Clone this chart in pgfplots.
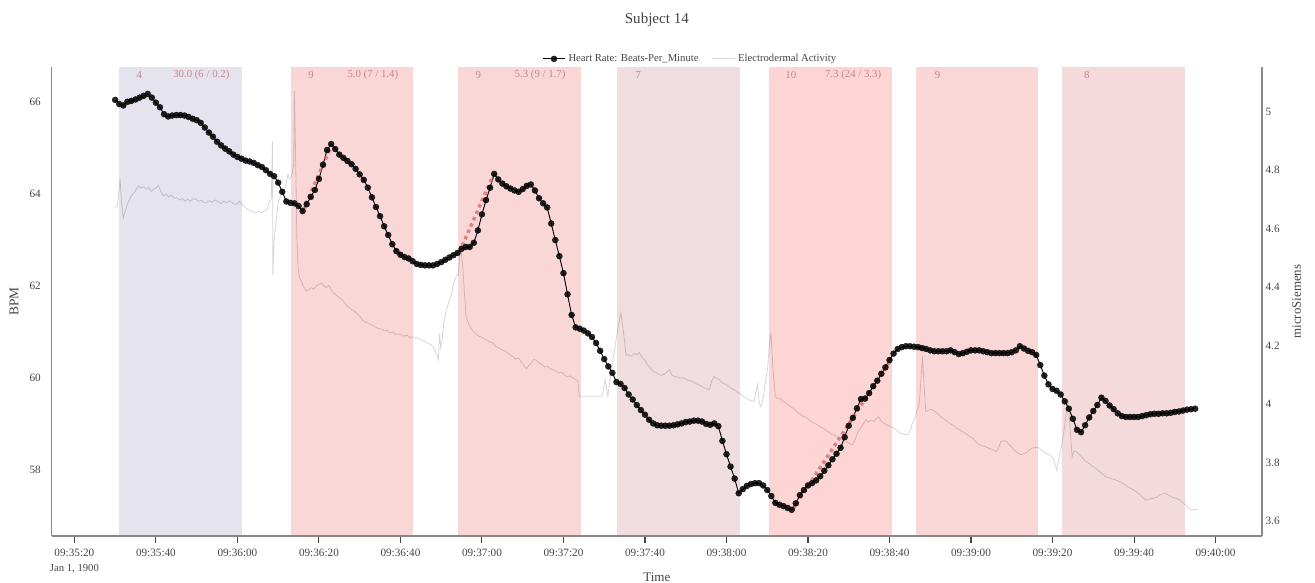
\documentclass[border=0pt]{standalone}
\usepackage{pgfplots}
\pgfplotsset{compat=1.18}
\usepackage{pgfplotstable}
\usepackage{fontspec}
\setmainfont{Liberation Serif}
\definecolor{txtgrey}{RGB}{68,68,68}
\definecolor{axgrey}{RGB}{136,136,136}
\definecolor{bandA}{RGB}{228,227,238}
\definecolor{bandB}{RGB}{249,215,215}
\definecolor{bandC}{RGB}{240,221,224}
\definecolor{bandD}{RGB}{253,213,213}
\definecolor{bandE}{RGB}{245,218,220}
\definecolor{bandtxt}{RGB}{200,135,135}
\definecolor{trendred}{RGB}{214,110,110}

\pgfplotstableread{
t bpm
30 66.04
31 65.95
32 65.92
33 66.00
34 66.02
35 66.05
36 66.09
37 66.13
38 66.17
39 66.09
40 65.98
41 65.88
42 65.73
43 65.68
44 65.70
45 65.71
46 65.71
47 65.70
48 65.67
49 65.63
50 65.60
51 65.54
52 65.44
53 65.33
54 65.24
55 65.13
56 65.05
57 64.98
58 64.92
59 64.85
60 64.80
61 64.76
62 64.72
63 64.70
64 64.67
65 64.62
66 64.58
67 64.51
68 64.43
69 64.38
70 64.24
71 64.04
72 63.83
73 63.80
74 63.79
75 63.73
76 63.62
77 63.77
78 63.93
79 64.08
80 64.32
81 64.63
82 64.95
83 65.08
84 64.97
85 64.85
86 64.78
87 64.71
88 64.64
89 64.54
90 64.42
91 64.30
92 64.13
93 63.92
94 63.71
95 63.51
96 63.29
97 63.10
98 62.90
99 62.75
100 62.67
101 62.62
102 62.59
103 62.53
104 62.47
105 62.45
106 62.44
107 62.44
108 62.44
109 62.47
110 62.51
111 62.56
112 62.61
113 62.66
114 62.71
115 62.80
116 62.84
117 62.84
118 62.93
119 63.20
120 63.55
121 63.86
122 64.13
123 64.43
124 64.31
125 64.22
126 64.16
127 64.11
128 64.07
129 64.04
130 64.10
131 64.17
132 64.20
133 64.07
134 63.90
135 63.79
136 63.70
137 63.35
138 62.99
139 62.64
140 62.27
141 61.81
142 61.36
143 61.09
144 61.06
145 61.02
146 60.96
147 60.88
148 60.75
149 60.58
150 60.40
151 60.24
152 60.10
153 59.90
154 59.86
155 59.77
156 59.63
157 59.52
158 59.40
159 59.29
160 59.19
161 59.08
162 59.00
163 58.96
164 58.95
165 58.95
166 58.95
167 58.96
168 58.98
169 59.00
170 59.03
171 59.04
172 59.06
173 59.06
174 59.04
175 58.99
176 58.97
177 59.00
178 58.94
179 58.62
180 58.33
181 58.06
182 57.80
183 57.48
184 57.57
185 57.64
186 57.68
187 57.70
188 57.70
189 57.65
190 57.55
191 57.42
192 57.27
193 57.23
194 57.20
195 57.16
196 57.12
197 57.26
198 57.44
199 57.55
200 57.65
201 57.70
202 57.76
203 57.85
204 57.97
205 58.09
206 58.22
207 58.34
208 58.47
209 58.70
210 58.95
211 59.12
212 59.33
213 59.53
214 59.54
215 59.66
216 59.81
217 59.93
218 60.08
219 60.22
220 60.38
221 60.52
222 60.62
223 60.66
224 60.68
225 60.68
226 60.67
227 60.66
228 60.64
229 60.62
230 60.59
231 60.57
232 60.57
233 60.57
234 60.57
235 60.59
236 60.55
237 60.51
238 60.53
239 60.56
240 60.59
241 60.59
242 60.59
243 60.57
244 60.55
245 60.53
246 60.53
247 60.53
248 60.53
249 60.53
250 60.55
251 60.59
252 60.68
253 60.63
254 60.58
255 60.55
256 60.49
257 60.27
258 60.04
259 59.85
260 59.75
261 59.71
262 59.63
263 59.48
264 59.32
265 59.10
266 58.86
267 58.81
268 58.96
269 59.13
270 59.27
271 59.40
272 59.56
273 59.49
274 59.39
275 59.31
276 59.22
277 59.16
278 59.14
279 59.14
280 59.14
281 59.14
282 59.16
283 59.18
284 59.20
285 59.21
286 59.21
287 59.22
288 59.22
289 59.23
290 59.25
291 59.26
292 59.28
293 59.30
294 59.31
295 59.32
}\hrdata

\pgfplotstableread{
t eda
30.0 4.672
30.6 4.680
31.2 4.771
31.5 4.700
32.0 4.637
32.6 4.665
33.2 4.690
34.0 4.712
34.8 4.725
35.7 4.746
36.3 4.738
37.0 4.744
37.6 4.735
38.2 4.742
38.9 4.726
39.5 4.735
40.1 4.740
40.6 4.748
41.2 4.728
41.8 4.712
42.5 4.718
43.2 4.708
43.8 4.715
44.5 4.704
45.1 4.706
45.8 4.698
46.5 4.703
47.1 4.694
47.8 4.700
48.5 4.695
49.2 4.703
49.8 4.700
50.5 4.693
51.2 4.697
51.8 4.688
52.4 4.689
53.1 4.696
53.8 4.690
54.5 4.698
55.2 4.692
55.9 4.686
56.6 4.694
57.3 4.688
58.0 4.695
58.6 4.690
59.3 4.683
59.8 4.683
60.5 4.694
61.3 4.680
62.2 4.668
63.0 4.662
63.9 4.657
64.6 4.655
65.3 4.660
66.0 4.654
66.7 4.662
67.3 4.665
67.8 4.690
68.3 4.700
68.6 4.900
68.7 4.440
69.0 4.560
69.4 4.609
70.0 4.690
70.6 4.712
71.1 4.725
71.6 4.735
72.0 4.760
72.4 4.786
72.8 4.770
73.3 4.780
73.8 4.820
74.0 5.070
74.3 4.820
74.6 4.560
74.9 4.460
75.3 4.430
75.7 4.420
76.3 4.400
76.9 4.386
77.5 4.390
78.1 4.398
78.7 4.392
79.4 4.404
80.0 4.409
80.6 4.414
81.2 4.405
81.8 4.398
82.4 4.405
83.0 4.392
83.5 4.380
84.2 4.372
84.8 4.366
85.4 4.360
86.1 4.350
86.7 4.338
87.4 4.330
88.1 4.322
88.8 4.316
89.4 4.308
90.0 4.300
90.7 4.286
91.4 4.280
92.0 4.276
92.6 4.272
93.3 4.268
94.0 4.262
94.6 4.258
95.3 4.256
96.0 4.250
96.7 4.252
97.4 4.243
98.1 4.246
98.8 4.238
99.5 4.240
100.2 4.236
100.9 4.232
101.6 4.236
102.3 4.226
103.0 4.230
103.7 4.224
104.4 4.226
105.1 4.218
105.8 4.215
106.5 4.209
107.2 4.205
107.8 4.198
108.4 4.185
108.9 4.170
109.3 4.150
109.6 4.240
109.9 4.190
110.2 4.215
110.6 4.275
111.2 4.317
111.8 4.345
112.5 4.375
113.0 4.410
113.5 4.430
113.9 4.443
114.2 4.440
114.5 4.500
114.9 4.523
115.3 4.470
115.7 4.380
116.1 4.300
116.5 4.283
117.1 4.262
117.8 4.249
118.5 4.240
119.2 4.232
119.9 4.228
120.6 4.222
121.3 4.218
122.0 4.212
122.7 4.209
123.4 4.196
124.1 4.192
124.8 4.186
125.5 4.182
126.2 4.176
126.9 4.168
127.6 4.162
128.3 4.153
129.0 4.157
129.7 4.142
130.3 4.132
130.9 4.120
131.5 4.132
132.1 4.140
132.7 4.152
133.3 4.150
134.0 4.140
134.7 4.136
135.4 4.126
136.1 4.128
136.8 4.120
137.5 4.116
138.2 4.112
138.9 4.106
139.6 4.108
140.3 4.098
141.0 4.092
141.7 4.096
142.4 4.088
143.0 4.085
143.5 4.077
143.9 4.026
146.0 4.026
149.2 4.026
149.7 4.040
150.2 4.085
150.5 4.060
150.9 4.026
151.5 4.090
152.1 4.146
152.7 4.200
153.3 4.254
153.8 4.290
154.1 4.311
154.5 4.270
155.0 4.214
155.3 4.170
155.8 4.168
156.6 4.163
157.3 4.172
158.0 4.168
158.6 4.176
159.3 4.158
160.0 4.150
160.7 4.132
161.5 4.120
162.2 4.110
162.9 4.106
163.5 4.100
164.2 4.098
165.0 4.104
165.6 4.112
166.0 4.117
166.6 4.098
167.3 4.094
168.0 4.092
168.7 4.088
169.4 4.089
170.1 4.084
170.8 4.080
171.5 4.077
172.3 4.071
173.0 4.066
173.7 4.062
174.4 4.056
175.1 4.052
175.8 4.049
176.4 4.080
177.0 4.094
177.6 4.088
178.3 4.082
179.0 4.072
179.9 4.066
180.6 4.060
181.3 4.052
182.0 4.048
182.7 4.040
183.4 4.034
184.1 4.026
184.8 4.020
185.5 4.014
186.2 4.010
186.8 4.009
187.2 4.040
187.6 4.066
188.0 4.010
188.3 3.991
188.7 4.000
189.1 4.030
189.6 4.080
190.1 4.123
190.5 4.200
190.9 4.243
191.4 4.120
192.0 4.026
192.6 4.018
193.2 4.020
193.8 4.009
194.5 4.004
195.2 3.996
196.0 3.988
196.7 3.982
197.4 3.972
198.1 3.965
198.8 3.957
199.5 3.955
200.2 3.946
200.9 3.938
201.6 3.934
202.3 3.928
203.0 3.922
203.7 3.917
204.4 3.910
205.1 3.904
205.8 3.896
206.5 3.892
207.2 3.886
207.9 3.880
208.6 3.877
209.3 3.872
210.0 3.866
210.9 3.860
211.6 3.880
212.3 3.905
212.8 3.915
213.5 3.930
214.2 3.946
214.8 3.938
215.5 3.944
216.2 3.940
216.8 3.950
217.4 3.955
218.0 3.940
218.6 3.935
219.3 3.928
220.0 3.924
220.6 3.920
221.2 3.917
221.9 3.908
222.6 3.900
223.3 3.898
224.0 3.894
224.6 3.896
225.1 3.910
225.6 3.934
226.2 3.950
226.8 3.980
227.3 4.000
227.7 4.080
228.1 4.163
228.5 4.060
228.9 3.974
229.5 3.978
230.2 3.982
230.8 3.978
231.5 3.970
232.2 3.962
232.9 3.952
233.6 3.946
234.3 3.938
235.0 3.932
235.7 3.926
236.4 3.918
237.1 3.912
237.8 3.906
238.5 3.900
239.2 3.894
239.9 3.886
240.6 3.880
241.3 3.868
242.0 3.860
242.7 3.858
243.4 3.854
244.1 3.850
244.8 3.846
245.5 3.842
246.2 3.837
246.8 3.850
247.3 3.871
248.0 3.874
248.7 3.871
249.4 3.860
250.1 3.850
250.8 3.840
251.5 3.832
252.2 3.826
252.9 3.830
253.6 3.834
254.3 3.842
254.9 3.849
255.6 3.850
256.3 3.852
257.0 3.846
257.7 3.838
258.4 3.831
259.1 3.826
259.8 3.820
260.4 3.805
261.0 3.774
261.5 3.810
262.0 3.840
262.5 3.880
262.8 3.906
263.3 3.960
263.8 4.009
264.2 3.940
264.5 3.880
264.8 3.820
265.3 3.840
265.9 3.836
266.6 3.826
267.3 3.816
268.1 3.803
268.8 3.798
269.5 3.790
270.2 3.784
270.9 3.776
271.6 3.768
272.3 3.760
273.0 3.751
273.7 3.748
274.4 3.744
275.1 3.742
275.8 3.738
276.5 3.734
277.2 3.728
277.9 3.723
278.6 3.716
279.3 3.710
280.0 3.704
280.7 3.698
281.4 3.690
282.1 3.680
282.9 3.671
283.6 3.674
284.3 3.676
285.0 3.678
285.7 3.682
286.4 3.690
287.1 3.692
287.8 3.694
288.5 3.688
289.2 3.682
289.9 3.678
290.6 3.676
291.3 3.670
292.0 3.662
292.7 3.654
293.4 3.645
294.0 3.637
294.6 3.640
295.0 3.636
295.5 3.640
}\edadata

\begin{document}
\begin{tikzpicture}
\path[use as bounding box] (-38.78pt,-35.25pt) rectangle (947.48pt,402pt);

% ---------- right axis: bands + EDA ----------
\begin{axis}[
  scale only axis, width=907.73pt, height=351.53pt,
  xmin=14.43, xmax=311.4, ymin=3.548, ymax=5.152,
  clip=false,
  axis x line=none,
  axis y line*=right,
  axis line style={draw=axgrey, line width=0.9pt},
  ytick={3.6,3.8,4,4.2,4.4,4.6,4.8,5},
  yticklabels={3.6,3.8,4,4.2,4.4,4.6,4.8,5},
  ytick style={draw=none},
  yticklabel style={anchor=west, inner sep=0pt, xshift=2.5pt, text=txtgrey, font=\fontsize{8.4}{10}\selectfont},
  ylabel={microSiemens},
  every axis y label/.style={at={(rel axis cs:1,0.5)}, xshift=26pt, rotate=90, anchor=center, text=txtgrey, font=\fontsize{9.7}{11}\selectfont},
]
\addplot[draw=none, fill=bandA] coordinates {(31,3.548) (61,3.548) (61,5.152) (31,5.152)};
\addplot[draw=none, fill=bandB] coordinates {(73.2,3.548) (103.2,3.548) (103.2,5.152) (73.2,5.152)};
\addplot[draw=none, fill=bandB] coordinates {(114.2,3.548) (144.3,3.548) (144.3,5.152) (114.2,5.152)};
\addplot[draw=none, fill=bandC] coordinates {(153.2,3.548) (183.3,3.548) (183.3,5.152) (153.2,5.152)};
\addplot[draw=none, fill=bandD] coordinates {(190.5,3.548) (220.5,3.548) (220.5,5.152) (190.5,5.152)};
\addplot[draw=none, fill=bandB] coordinates {(226.5,3.548) (256.5,3.548) (256.5,5.152) (226.5,5.152)};
\addplot[draw=none, fill=bandE] coordinates {(262.4,3.548) (292.5,3.548) (292.5,5.152) (262.4,5.152)};

\addplot[black, opacity=0.16, line width=0.6pt] table[x=t, y=eda] {\edadata};

\begin{scope}[every node/.style={text=bandtxt, font=\fontsize{8.1}{10}\selectfont, anchor=center, yshift=-5.5pt}]
\node at (axis cs:35.93,5.152) {4};
\node at (axis cs:51.14,5.152) {30.0 (6 / 0.2)};
\node at (axis cs:78.06,5.152) {9};
\node at (axis cs:93.23,5.152) {5.0 (7 / 1.4)};
\node at (axis cs:119.12,5.152) {9};
\node at (axis cs:134.26,5.152) {5.3 (9 / 1.7)};
\node at (axis cs:158.38,5.152) {7};
\node at (axis cs:195.80,5.152) {10};
\node at (axis cs:211.07,5.152) {7.3 (24 / 3.3)};
\node at (axis cs:231.80,5.152) {9};
\node at (axis cs:268.42,5.152) {8};
\end{scope}
\end{axis}

% ---------- left axis: heart rate ----------
\begin{axis}[
  scale only axis, width=907.73pt, height=351.53pt,
  xmin=14.43, xmax=311.4, ymin=56.55, ymax=66.75,
  clip=false,
  axis x line*=bottom,
  axis y line*=left,
  axis line style={draw=axgrey, line width=0.9pt},
  xtick={20,40,...,300},
  xticklabels={09:35:20,09:35:40,09:36:00,09:36:20,09:36:40,09:37:00,09:37:20,09:37:40,09:38:00,09:38:20,09:38:40,09:39:00,09:39:20,09:39:40,09:40:00},
  xtick pos=lower,
  major tick length=5pt,
  xtick style={draw=txtgrey, line width=0.8pt},
  xticklabel style={anchor=north, inner sep=0pt, yshift=-4.5pt, text=txtgrey, font=\fontsize{8.4}{10}\selectfont},
  ytick={58,60,62,64,66},
  yticklabels={58,60,62,64,66},
  ytick style={draw=none},
  yticklabel style={anchor=east, inner sep=0pt, xshift=-3pt, text=txtgrey, font=\fontsize{8.4}{10}\selectfont},
  xlabel={Time},
  every axis x label/.style={at={(rel axis cs:0.5,0)}, yshift=-30.75pt, anchor=center, text=txtgrey, font=\fontsize{9.8}{11}\selectfont},
  ylabel={BPM},
  every axis y label/.style={at={(rel axis cs:0,0.5)}, xshift=-28.3pt, rotate=90, anchor=center, text=txtgrey, font=\fontsize{10}{11}\selectfont},
  legend columns=2,
  legend style={at={(0.5278,1)}, anchor=center, yshift=6.3pt, draw=none, fill=none,
    font=\fontsize{8}{9.6}\selectfont, text=txtgrey,
    /tikz/every even column/.append style={column sep=8pt}},
  tick align=outside,
]
\addplot[black, line width=0.7pt, mark=*, mark size=2.25pt,
  mark options={fill=black, draw=black, line width=0.3pt, opacity=0.85}]
  table[x=t, y=bpm] {\hrdata};
\addlegendentry{Heart Rate: Beats-Per\_Minute}
\addlegendimage{black, opacity=0.16, line width=0.6pt}
\addlegendentry{Electrodermal Activity}

\addplot[forget plot, trendred, opacity=0.8, line width=2.6pt, dash pattern=on 2.6pt off 2.6pt] coordinates {(31.8,65.91) (37.8,66.14)};
\addplot[forget plot, trendred, opacity=0.8, line width=2.6pt, dash pattern=on 2.6pt off 2.6pt] coordinates {(76.1,63.64) (82.7,64.97)};
\addplot[forget plot, trendred, opacity=0.8, line width=2.6pt, dash pattern=on 2.6pt off 2.6pt] coordinates {(114.5,62.73) (122.7,64.39)};
\addplot[forget plot, trendred, opacity=0.8, line width=2.6pt, dash pattern=on 2.6pt off 2.6pt] coordinates {(196.2,57.12) (220.1,60.35)};

\node[text=txtgrey, font=\fontsize{11.3}{13}\selectfont, anchor=center, yshift=35.5pt] at (rel axis cs:0.5,1) {Subject 14};
\node[text=txtgrey, font=\fontsize{8}{10}\selectfont, anchor=center, yshift=-24.5pt] at (axis cs:20,56.55) {Jan 1, 1900};
\end{axis}
\end{tikzpicture}
\end{document}
